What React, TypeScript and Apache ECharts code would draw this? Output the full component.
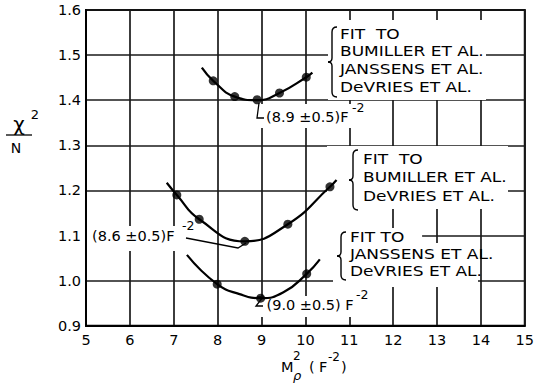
import React, { useEffect, useRef } from "react";
import * as echarts from "echarts";

// ---- data ----
const xTicks = [5, 6, 7, 8, 9, 10, 11, 12, 13, 14, 15];
const yTicks = [0.9, 1.0, 1.1, 1.2, 1.3, 1.4, 1.5, 1.6];

// Fit to Bumiller, Janssens, DeVries
const fitAX = [7.9, 8.39, 8.9, 9.41, 10.02];
const fitAY = [1.443, 1.408, 1.401, 1.416, 1.451];
const curveAX = [7.64, 7.9, 8.39, 8.9, 9.41, 10.02, 10.16];
const curveAY = [1.472, 1.443, 1.408, 1.4, 1.416, 1.451, 1.461];

// Fit to Bumiller, DeVries
const fitBX = [7.07, 7.58, 8.62, 9.6, 10.56];
const fitBY = [1.19, 1.136, 1.087, 1.125, 1.208];
const curveBX = [6.84, 7.07, 7.58, 8.62, 9.6, 10.56, 10.71];
const curveBY = [1.217, 1.19, 1.136, 1.087, 1.125, 1.208, 1.223];

// Fit to Janssens, DeVries
const fitCX = [7.99, 8.98, 10.03];
const fitCY = [0.992, 0.961, 1.015];
const curveCX = [7.3, 7.99, 8.5, 8.98, 9.5, 10.03, 10.33];
const curveCY = [1.057, 0.992, 0.97, 0.961, 0.974, 1.015, 1.047];

const INK = "#000";
const FONT = "DejaVu Sans";

const zip = (xs: number[], ys: number[]) => xs.map((x, i) => [x, ys[i]]);

function brace(x: number, top: number, bot: number) {
  const mid = (top + bot) / 2;
  const r = 4;
  const st = { stroke: INK, lineWidth: 1.4, fill: null as any };
  const els: any[] = [
    { type: "bezierCurve", shape: { x1: x + r + 1, y1: top, cpx1: x, cpy1: top, x2: x, y2: top + r + 1 } },
    { type: "line", shape: { x1: x, y1: top + r + 1, x2: x, y2: mid - r } },
    { type: "bezierCurve", shape: { x1: x, y1: mid - r, cpx1: x, cpy1: mid, x2: x - r, y2: mid } },
    { type: "bezierCurve", shape: { x1: x - r, y1: mid, cpx1: x, cpy1: mid, x2: x, y2: mid + r } },
    { type: "line", shape: { x1: x, y1: mid + r, x2: x, y2: bot - r - 1 } },
    { type: "bezierCurve", shape: { x1: x, y1: bot - r - 1, cpx1: x, cpy1: bot, x2: x + r + 1, y2: bot } },
  ];
  return els.map((e) => ({ ...e, style: st, z: 10, silent: true }));
}

function boxText(x: number, y: number, text: string) {
  return {
    type: "text",
    x,
    y,
    scaleX: 1.26,
    z: 10,
    silent: true,
    style: { text, fill: INK, font: `13.5px ${FONT}`, textVerticalAlign: "middle" },
  };
}

function txt(x: number, y: number, text: string, size: number, extra: any = {}) {
  return {
    type: "text",
    x,
    y,
    z: 10,
    silent: true,
    style: { text, fill: INK, font: `${size}px ${FONT}`, textVerticalAlign: "middle", ...extra },
  };
}

function white(x: number, y: number, w: number, h: number) {
  return { type: "rect", z: 1, silent: true, shape: { x, y, width: w, height: h }, style: { fill: "#fff" } };
}

function lead(points: number[][]) {
  return { type: "polyline", z: 10, silent: true, shape: { points }, style: { stroke: INK, lineWidth: 1.3, fill: null } };
}

export default function App() {
  const ref = useRef<HTMLDivElement>(null);
  useEffect(() => {
    if (!ref.current) return;
    const chart = echarts.init(ref.current, null, { renderer: "svg" });
    const splitColors = yTicks.map((v) => (Math.abs(v - 1.1) < 1e-6 ? "rgba(0,0,0,0)" : "#1a1a1a"));
    const curveStyle = { color: INK, width: 2.2 };
    const pointStyle = { color: INK };
    const option: any = {
      animation: false,
      backgroundColor: "#fff",
      grid: { left: 86, top: 10, width: 445, height: 315.7, show: true, borderColor: INK, borderWidth: 2, containLabel: false },
      xAxis: {
        type: "value",
        min: xTicks[0],
        max: xTicks[xTicks.length - 1],
        interval: 1,
        axisLine: { show: true, lineStyle: { color: INK, width: 2 } },
        axisTick: { show: false },
        axisLabel: { color: INK, fontFamily: FONT, fontSize: 14.5, margin: 7 },
        splitLine: { show: true, lineStyle: { color: "#1a1a1a", width: 1.7 } },
      },
      yAxis: {
        type: "value",
        min: yTicks[0],
        max: yTicks[yTicks.length - 1],
        interval: 0.1,
        axisLine: { show: true, lineStyle: { color: INK, width: 2 } },
        axisTick: { show: false },
        axisLabel: { color: INK, fontFamily: FONT, fontSize: 14.5, margin: 5, formatter: (v: number) => v.toFixed(1) },
        splitLine: { show: true, lineStyle: { color: splitColors, width: 1.7 } },
      },
      series: [
        { type: "line", data: zip(curveAX, curveAY), smooth: 0.5, symbol: "none", lineStyle: curveStyle, z: 3 },
        { type: "line", data: zip(curveBX, curveBY), smooth: 0.5, symbol: "none", lineStyle: curveStyle, z: 3 },
        { type: "line", data: zip(curveCX, curveCY), smooth: 0.5, symbol: "none", lineStyle: curveStyle, z: 3 },
        { type: "scatter", data: zip(fitAX, fitAY), symbolSize: 9, itemStyle: pointStyle, z: 4 },
        { type: "scatter", data: zip(fitBX, fitBY), symbolSize: 9, itemStyle: pointStyle, z: 4 },
        {
          type: "scatter",
          data: zip(fitCX, fitCY),
          symbolSize: 9,
          itemStyle: pointStyle,
          z: 4,
          markLine: {
            silent: true,
            symbol: ["none", "none"],
            label: { show: false },
            lineStyle: { color: "#1a1a1a", width: 1.7, type: "solid" },
            data: [[{ coord: [12.66, 1.1] }, { coord: [15, 1.1] }]],
          },
        },
      ],
      graphic: [
        // white label backgrounds (they interrupt the grid)
        white(328, 20, 158, 80),
        white(255, 104, 115, 24),
        white(327, 146, 181, 63),
        white(345, 205, 17, 95),
        white(333, 228, 92, 17),
        white(333, 243, 145, 44),
        white(258, 296, 114, 21),
        white(90, 226, 105, 25),
        // top box
        ...brace(332, 27, 97),
        boxText(340, 34.5, "FIT  TO"),
        boxText(340, 52, "BUMILLER ET AL."),
        boxText(340, 70, "JANSSENS ET AL."),
        boxText(340, 88, "DeVRIES ET AL."),
        // middle box
        ...brace(353, 150, 210),
        boxText(363, 160, "FIT  TO"),
        boxText(363, 178, "BUMILLER ET AL."),
        boxText(363, 197, "DeVRIES ET AL."),
        // bottom box
        ...brace(341, 232, 280),
        boxText(350, 238, "FIT TO"),
        boxText(350, 255, "JANSSENS ET AL."),
        boxText(350, 272, "DeVRIES ET AL."),
        // minimum labels
        txt(266, 116.5, "(8.9 ±0.5)F", 14.5),
        txt(352, 107, "-2", 12.5),
        lead([[259, 103], [257, 118], [264, 118]]),
        txt(92, 235.7, "(8.6 ±0.5)F", 14.5),
        txt(182, 225, "-2", 12.5),
        lead([[186, 238], [238, 248], [246, 243]]),
        txt(266.5, 305, "(9.0 ±0.5) F", 14.5),
        txt(356, 294, "-2", 12.5),
        lead([[257, 297], [263, 297], [256, 306], [263, 306]]),
        // y axis name  chi^2 / N
        txt(19, 124, "χ", 20, { textAlign: "center" }),
        txt(35, 114, "2", 13, { textAlign: "center" }),
        { type: "line", z: 10, silent: true, shape: { x1: 6, y1: 135, x2: 32, y2: 135 }, style: { stroke: INK, lineWidth: 1.3 } },
        txt(16, 148, "N", 14, { textAlign: "center" }),
        // x axis name  M_rho^2 (F^-2)
        txt(281, 367, "M", 14.5),
        txt(293, 356, "2", 12),
        txt(293, 375, "ρ", 13, { font: `italic 13px ${FONT}` }),
        txt(309, 367, "(", 14.5),
        txt(319, 367, "F", 14.5),
        txt(328, 357, "-2", 12),
        txt(341, 367, ")", 14.5),
      ],
    };
    chart.setOption(option);
    return () => chart.dispose();
  }, []);
  return <div ref={ref} style={{ width: 537, height: 384, position: "absolute", left: 0, top: 0 }} />;
}
